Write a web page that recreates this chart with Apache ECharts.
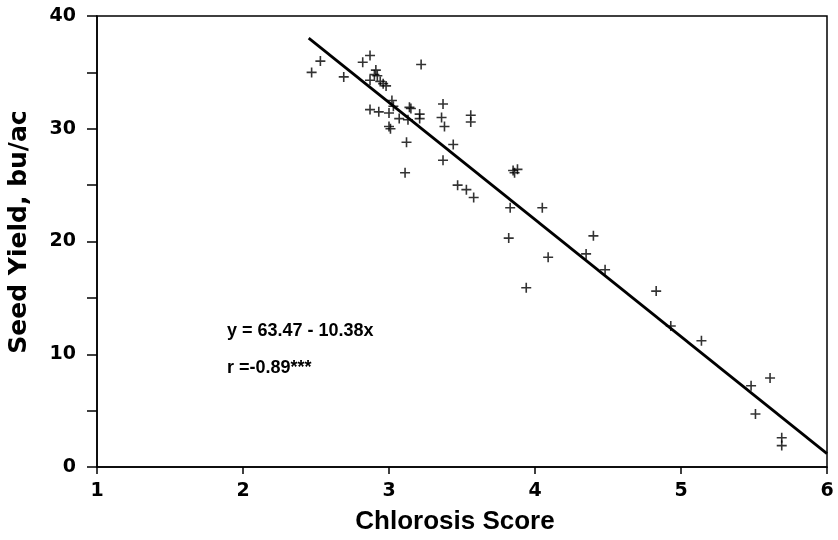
<!DOCTYPE html>
<html>
<head>
<meta charset="utf-8">
<script src="https://cdn.jsdelivr.net/npm/echarts@6/dist/echarts.min.js"></script>
<style>
html, body { margin: 0; padding: 0; background: #fff; }
#chart { width: 838px; height: 540px; }
</style>
</head>
<body>
<div id="chart"></div>
<script>
// 散点：叶片黄化评分 vs 产量
const chlorosis = [2.47, 2.53, 2.69, 2.82, 2.87, 2.91, 2.90, 2.92, 2.87, 2.94, 2.96, 2.98, 3.22, 3.02, 3.03,
	2.87, 2.93, 3.00, 3.14, 3.15, 3.21, 3.21, 3.07, 3.13, 3.00, 3.01, 3.37, 3.36, 3.38, 3.56,
	3.56, 3.12, 3.44, 3.37, 3.11, 3.47, 3.53, 3.58, 3.85, 3.88, 3.86, 3.83, 4.05, 3.82, 4.40,
	4.09, 4.35, 4.48, 3.94, 4.83, 4.93, 5.14, 5.61, 5.48, 5.51, 5.69, 5.69];
const seedYield = [35.0, 36.0, 34.6, 35.9, 36.5, 35.2, 34.8, 34.7, 34.3, 34.2, 34.0, 33.8, 35.7, 32.5, 32.0,
	31.7, 31.5, 31.4, 31.9, 31.8, 31.3, 30.9, 30.9, 30.8, 30.2, 30.0, 32.2, 31.0, 30.2, 31.2,
	30.6, 28.8, 28.6, 27.2, 26.1, 25.0, 24.6, 23.9, 26.3, 26.4, 26.1, 23.0, 23.0, 20.3, 20.5,
	18.6, 18.9, 17.5, 15.9, 15.6, 12.5, 11.2, 7.9, 7.2, 4.7, 2.6, 1.9];

// 回归线 y = 63.47 - 10.38x
const intercept = 63.47, slope = -10.38;
const lineRange = [2.45, 6];

const xTicks = [1, 2, 3, 4, 5, 6];
const yTicks = [0, 10, 20, 30, 40];

const font = 'Liberation Sans';
const wide = 'DejaVu Sans';
const plus = 'path://M0,4.2 H10 V5.8 H0 Z M4.2,0 H5.8 V10 H4.2 Z';

const chart = echarts.init(document.getElementById('chart'));
chart.setOption({
	animation: false,
	backgroundColor: '#fff',
	grid: {
		left: 97, right: 11, top: 16, bottom: 70,
		show: true,
		borderColor: '#000',
		borderWidth: 1.5
	},
	xAxis: {
		type: 'value',
		min: xTicks[0],
		max: xTicks[xTicks.length - 1],
		interval: 1,
		name: 'Chlorosis Score',
		nameLocation: 'middle',
		nameGap: 42,
		nameTextStyle: {color: '#000', fontFamily: font, fontWeight: 'bold', fontSize: 26, padding: [0, 14, 0, 0]},
		axisLine: {lineStyle: {color: '#000', width: 1.5}},
		axisTick: {show: true, inside: false, length: 7, lineStyle: {color: '#000', width: 1.5}},
		axisLabel: {color: '#000', fontFamily: wide, fontWeight: 'bold', fontSize: 19, margin: 15},
		splitLine: {show: false}
	},
	yAxis: {
		type: 'value',
		min: yTicks[0],
		max: yTicks[yTicks.length - 1],
		interval: 5,
		axisLine: {lineStyle: {color: '#000', width: 1.5}},
		axisTick: {show: true, inside: false, length: 10, lineStyle: {color: '#000', width: 1.5}},
		axisLabel: {
			color: '#000', fontFamily: wide, fontWeight: 'bold', fontSize: 19, margin: 21,
			formatter: v => yTicks.indexOf(v) >= 0 ? String(v) : ''
		},
		splitLine: {show: false}
	},
	graphic: [
		{
			type: 'text', x: 19, y: 232, rotation: Math.PI / 2,
			style: {text: 'Seed Yield, bu/ac', fill: '#000', font: 'bold 25px "DejaVu Sans"', align: 'center', verticalAlign: 'middle'}
		},
		{type: 'text', left: 227, top: 322, style: {text: 'y = 63.47 - 10.38x', fill: '#000', font: 'bold 18px "Liberation Sans"'}},
		{type: 'text', left: 227, top: 359, style: {text: 'r =-0.89***', fill: '#000', font: 'bold 18px "Liberation Sans"'}}
	],
	series: [
		{
			type: 'scatter',
			symbol: plus,
			symbolSize: 10,
			itemStyle: {color: '#000'},
			data: chlorosis.map((x, i) => [x, seedYield[i]])
		},
		{
			type: 'line',
			symbol: 'none',
			lineStyle: {color: '#000', width: 2.8},
			data: lineRange.map(x => [x, intercept + slope * x])
		}
	]
});
</script>
</body>
</html>
